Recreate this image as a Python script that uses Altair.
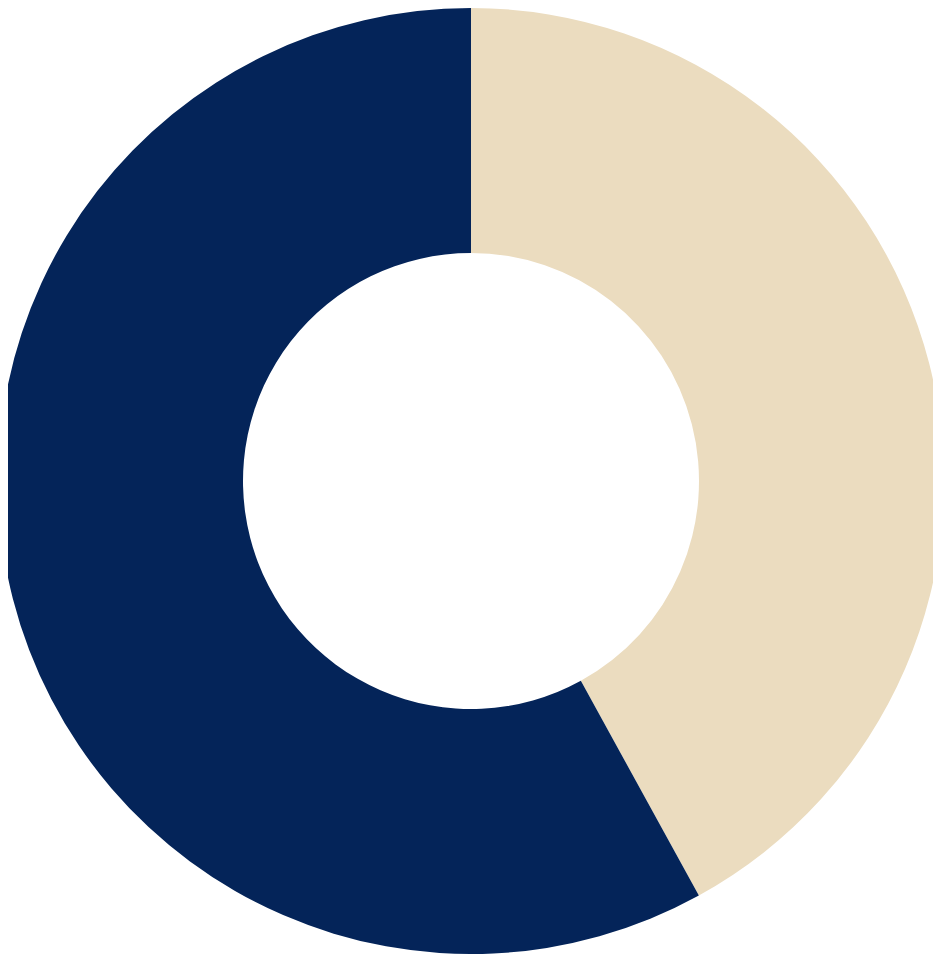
import altair as alt
import pandas as pd

categories = ["A", "B"]
values = [42, 58]
colors = ["#ebdcbf", "#042459"]
order = [1, 2]

df = pd.DataFrame({"category": categories, "value": values, "order": order})

chart = alt.Chart(df).mark_arc(radius=473, radius2=228, stroke=None).encode(
    theta=alt.Theta("value:Q", stack=True),
    color=alt.Color("category:N", scale=alt.Scale(domain=categories, range=colors), legend=None),
    order=alt.Order("order:Q"),
    x=alt.value(463),
    y=alt.value(473),
).properties(
    width=925, height=946,
    autosize=alt.AutoSizeParams(type="none"),
    padding=0,
).configure_view(stroke=None)

chart.save("out.html", embed_options={"renderer": "svg", "actions": False})
